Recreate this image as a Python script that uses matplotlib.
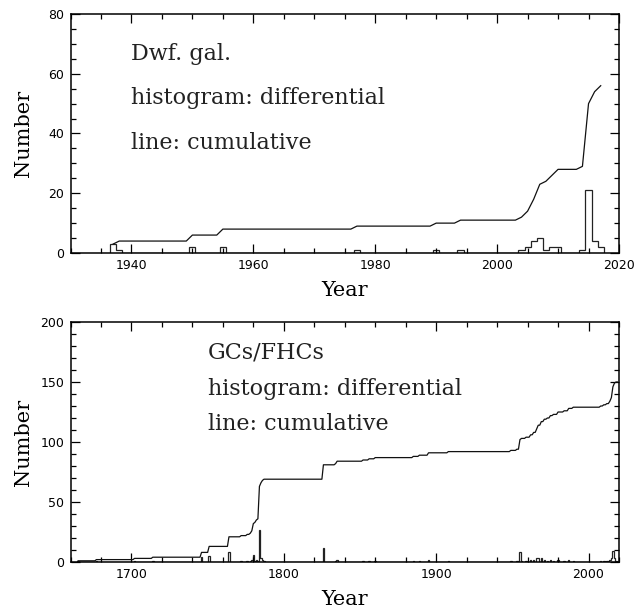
import numpy as np
import matplotlib
matplotlib.use("Agg")
import matplotlib.pyplot as plt
from matplotlib.ticker import MultipleLocator

# Dwarf galaxies: discoveries per year (differential)
dwarf_years = [1937, 1938, 1950, 1955, 1977, 1990, 1994, 2004, 2005, 2006,
               2007, 2008, 2009, 2010, 2014, 2015, 2016, 2017]
dwarf_counts = [3, 1, 2, 2, 1, 1, 1, 1, 2, 4, 5, 1, 2, 2, 1, 21, 4, 2]
dwarf_span = (1937, 2017)

# Globular clusters / faint halo clusters: discoveries per year
gc_years = [1665, 1677, 1702, 1714, 1746, 1751, 1764, 1772, 1776, 1778,
            1779, 1780, 1781, 1782, 1783, 1784, 1785, 1786, 1787, 1826,
            1834, 1835, 1852, 1856, 1860, 1885, 1889, 1895, 1908, 1949,
            1953, 1955, 1956, 1959, 1962, 1964, 1966, 1967, 1969, 1971,
            1973, 1975, 1977, 1980, 1984, 1987, 1990, 2008, 2010, 2012,
            2014, 2015, 2016, 2017, 2018]
gc_counts = [1, 1, 1, 1, 4, 5, 8, 1, 1, 1,
             2, 6, 1, 2, 1, 27, 3, 2, 1, 12,
             1, 2, 1, 1, 1, 1, 1, 2, 1, 1,
             1, 8, 1, 1, 2, 2, 3, 3, 3, 2,
             1, 2, 1, 2, 1, 2, 1, 1, 1, 1,
             2, 3, 9, 3, 1]
gc_span = (1665, 2019)

plt.rcParams['font.family'] = ['DejaVu Sans']
serif = 'DejaVu Serif'


def yearly(years, counts, span):
    grid = np.arange(span[0], span[1] + 1)
    n = np.zeros(len(grid))
    for y, c in zip(years, counts):
        n[y - span[0]] += c
    return grid, n


def draw_panel(ax, years, counts, span, xlim, ylim, xmaj, xmin, ymaj, ymin, texts):
    grid, n = yearly(years, counts, span)
    edges = np.append(grid - 0.5, grid[-1] + 0.5)
    ax.stairs(n, edges, color='#222222', lw=0.9, baseline=0)
    ax.plot(grid, np.cumsum(n), color='#111111', lw=0.9)
    ax.set_xlim(*xlim)
    ax.set_ylim(*ylim)
    ax.xaxis.set_major_locator(MultipleLocator(xmaj))
    ax.xaxis.set_minor_locator(MultipleLocator(xmin))
    ax.yaxis.set_major_locator(MultipleLocator(ymaj))
    ax.yaxis.set_minor_locator(MultipleLocator(ymin))
    ax.tick_params(which='both', direction='in', top=True, right=True, width=0.9)
    ax.tick_params(which='major', length=6.5, labelsize=9, pad=4.5)
    ax.tick_params(which='minor', length=3.5)
    for s in ax.spines.values():
        s.set_linewidth(1.1)
    ax.set_xlabel('Year', family=serif, fontsize=15, labelpad=6)
    ax.set_ylabel('Number', family=serif, fontsize=15)
    ax.yaxis.set_label_coords(-0.068, 0.5)
    for (tx, ty, s) in texts:
        ax.text(tx, ty, s, transform=ax.transAxes, family=serif, fontsize=16,
                va='baseline', ha='left', color='#222222')


fig = plt.figure(figsize=(6.34, 6.10), dpi=100)
ax1 = fig.add_axes([70.5 / 634, 1 - 253 / 610, 548.5 / 634, 239 / 610])
ax2 = fig.add_axes([70.5 / 634, 1 - 562 / 610, 548.5 / 634, 240 / 610])

draw_panel(ax1, dwarf_years, dwarf_counts, dwarf_span, (1930, 2020), (0, 80),
           20, 5, 20, 5,
           [(0.111, 0.808, 'Dwf. gal.'),
            (0.111, 0.623, 'histogram: differential'),
            (0.111, 0.435, 'line: cumulative')])
draw_panel(ax2, gc_years, gc_counts, gc_span, (1660, 2020), (0, 200),
           100, 20, 50, 10,
           [(0.251, 0.846, 'GCs/FHCs'),
            (0.251, 0.696, 'histogram: differential'),
            (0.251, 0.55, 'line: cumulative')])

fig.savefig('out.png', dpi=100)
